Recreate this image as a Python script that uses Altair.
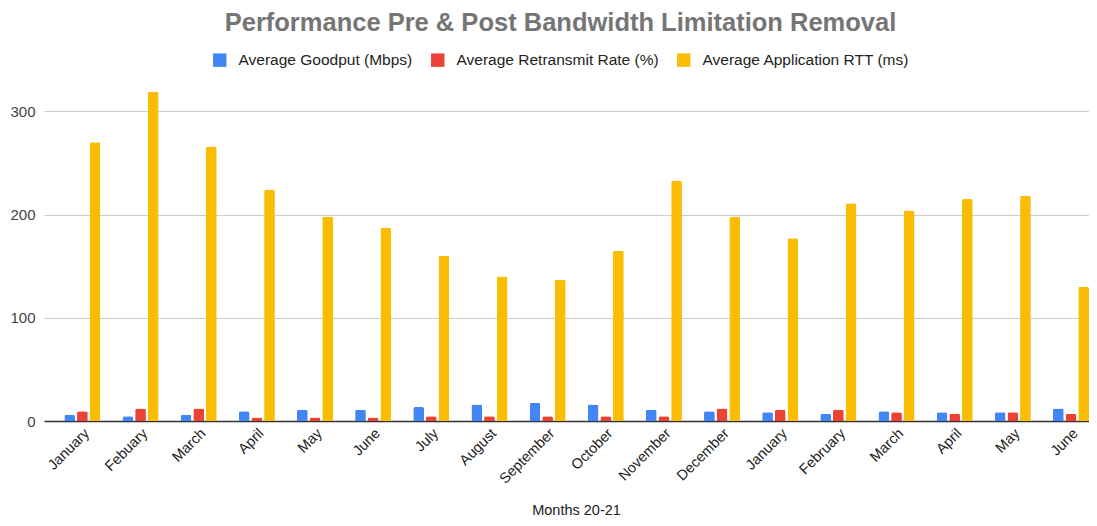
import altair as alt
import pandas as pd

months = ["January", "Febuary", "March", "April", "May", "June", "July", "August",
          "September", "October", "November", "December", "January", "February",
          "March", "April", "May", "June"]
goodput = [6, 4.5, 6, 9.5, 11, 11, 13.5, 16, 17.5, 16, 11, 9.5, 8.5, 7, 9.5, 8.5, 8.5, 12]
retransmit = [9.5, 12, 12, 3.5, 3.5, 3.5, 4.5, 4.5, 4.5, 4.5, 4.5, 12, 11, 11, 8.5, 7, 8.5, 7]
rtt = [270, 319, 266, 224, 198, 187, 160, 140, 137, 165, 233, 198, 177, 211, 204, 215, 218, 130]

series = ["Average Goodput (Mbps)", "Average Retransmit Rate (%)", "Average Application RTT (ms)"]
colors = ["#4285F4", "#EA4335", "#FBBC04"]

rows = []
for i in range(len(months)):
    for s, vals in zip(series, [goodput, retransmit, rtt]):
        rows.append({"idx": i, "series": s, "value": vals[i]})
df = pd.DataFrame(rows)

label_expr = "[" + ",".join("'" + m + "'" for m in months) + "][datum.value]"

font = "Liberation Sans"

chart = alt.Chart(df).mark_bar(cornerRadiusTopLeft=2, cornerRadiusTopRight=2).encode(
    x=alt.X("idx:O",
            scale=alt.Scale(paddingInner=0.38, paddingOuter=0.175, align=1),
            axis=alt.Axis(title="Months 20-21", labelExpr=label_expr, labelAngle=-45,
                          labelAlign="right", labelBaseline="top", labelFontSize=14.5,
                          labelColor="#222222", labelFont=font, ticks=False,
                          domainColor="#333333", domainWidth=1.5,
                          titleFont=font, titleFontSize=14.5, titleFontWeight="normal",
                          titleColor="#222222", titlePadding=18, labelPadding=5,
                          titleX=532)),
    xOffset=alt.XOffset("series:N", sort=series, scale=alt.Scale(domain=series, paddingInner=0.15)),
    y=alt.Y("value:Q",
            scale=alt.Scale(domain=[0, 340], nice=False),
            axis=alt.Axis(title=None, values=[0, 100, 200, 300], labelFontSize=15,
                          labelColor="#444444", labelFont=font, ticks=False, domain=False,
                          gridColor="#cccccc", labelPadding=9)),
    color=alt.Color("series:N", sort=series,
                    scale=alt.Scale(domain=series, range=colors),
                    legend=alt.Legend(orient="none", legendX=168, legendY=-18,
                                      title=None, symbolType="square",
                                      symbolSize=180, labelFontSize=15.5, labelFont=font,
                                      labelColor="#222222", columnPadding=17, labelOffset=11,
                                      labelLimit=400,
                                      direction="horizontal", symbolStrokeWidth=0,
                                      symbolOpacity=1)),
).properties(
    width=1081, height=510,
    autosize=alt.AutoSizeParams(type="fit", contains="padding"),
    padding={"left": 1, "right": 0, "top": 2, "bottom": 0},
    title=alt.TitleParams("Performance Pre & Post Bandwidth Limitation Removal",
                          font=font, fontSize=25.5, fontWeight="bold", color="#757575",
                          anchor="middle", offset=34, dx=-6),
).configure_view(stroke=None)

chart.save("out.html", embed_options={"renderer": "svg", "actions": False})
